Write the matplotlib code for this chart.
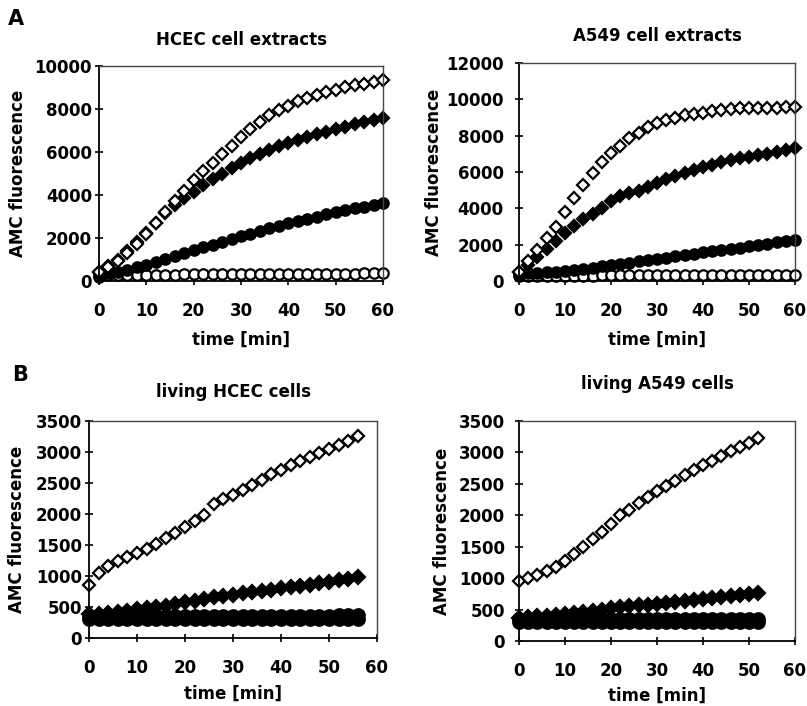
import numpy as np
import matplotlib
matplotlib.use("Agg")
import matplotlib.pyplot as plt

plt.rcParams['font.family'] = ['DejaVu Sans']
plt.rcParams['font.weight'] = 'bold'

# ---------------- data ----------------
time_A = list(range(0, 61, 2))
hcec_ext_open_diamond = [400, 650, 950, 1300, 1700, 2200, 2700, 3200, 3700, 4200, 4700, 5100, 5500, 5900,
                         6300, 6700, 7050, 7400, 7700, 7950, 8150, 8350, 8500, 8650, 8800, 8900, 9000,
                         9100, 9150, 9250, 9350]
hcec_ext_filled_diamond = [400, 700, 1000, 1400, 1800, 2250, 2700, 3150, 3550, 3850, 4150, 4450, 4750, 5000,
                           5250, 5500, 5700, 5900, 6100, 6280, 6430, 6580, 6720, 6840, 6950, 7060, 7180,
                           7280, 7380, 7480, 7600]
hcec_ext_filled_circle = [300, 350, 420, 520, 630, 760, 890, 1020, 1150, 1290, 1420, 1560, 1690, 1820, 1950,
                          2080, 2200, 2330, 2450, 2560, 2680, 2790, 2900, 3000, 3100, 3200, 3290, 3380,
                          3460, 3540, 3620]
hcec_ext_open_circle = [200, 260, 280, 290, 290, 300, 300, 300, 300, 310, 310, 310, 310, 310, 320, 320, 320,
                        320, 320, 330, 330, 330, 330, 330, 340, 340, 340, 340, 350, 350, 350]

a549_ext_open_diamond = [500, 1100, 1710, 2350, 3000, 3820, 4560, 5290, 5970, 6540, 7040, 7410, 7870, 8140,
                         8460, 8700, 8840, 8970, 9150, 9210, 9250, 9340, 9430, 9450, 9500, 9520, 9530,
                         9540, 9550, 9560, 9580]
a549_ext_filled_diamond = [500, 900, 1300, 1750, 2200, 2650, 3050, 3400, 3700, 4000, 4400, 4700, 4850, 4950,
                           5150, 5400, 5600, 5800, 5950, 6100, 6250, 6400, 6550, 6650, 6750, 6850, 6950,
                           7000, 7100, 7200, 7300]
a549_ext_filled_circle = [400, 420, 450, 480, 520, 570, 620, 680, 740, 800, 870, 940, 1010, 1080, 1150, 1220,
                          1290, 1360, 1430, 1500, 1570, 1640, 1700, 1770, 1840, 1910, 1980, 2050, 2120,
                          2200, 2280]
a549_ext_open_circle = [250, 280, 290, 290, 300, 300, 300, 300, 300, 310, 310, 310, 310, 310, 310, 320, 320,
                        320, 320, 320, 320, 330, 330, 330, 330, 330, 340, 340, 340, 340, 350]

time_B_hcec = list(range(0, 57, 2))
hcec_live_open_diamond = [860, 1045, 1160, 1245, 1300, 1365, 1430, 1510, 1610, 1690, 1795, 1885, 1980, 2160,
                          2235, 2310, 2395, 2475, 2555, 2640, 2715, 2785, 2855, 2920, 2990, 3055, 3110,
                          3180, 3255]
hcec_live_filled_diamond = [380, 390, 410, 420, 440, 460, 480, 500, 520, 550, 580, 600, 630, 660, 680, 700,
                            720, 740, 760, 780, 800, 820, 840, 860, 880, 900, 930, 950, 980]
hcec_live_circle_1 = [300] * 29
hcec_live_circle_2 = [360, 360, 360, 360, 360, 360, 360, 360, 360, 360, 360, 360, 360, 360, 360, 360, 360,
                      360, 360, 360, 360, 360, 360, 360, 360, 360, 370, 370, 370]

time_B_a549 = list(range(0, 53, 2))
a549_live_open_diamond = [950, 995, 1050, 1115, 1180, 1270, 1380, 1490, 1615, 1735, 1860, 2000, 2090, 2195,
                          2290, 2380, 2465, 2545, 2635, 2715, 2795, 2865, 2945, 3015, 3085, 3150, 3225]
a549_live_filled_diamond = [370, 380, 390, 400, 415, 430, 445, 460, 480, 500, 520, 535, 550, 565, 580, 595,
                            610, 625, 640, 655, 670, 685, 700, 715, 730, 745, 760]
a549_live_circle_1 = [300] * 27
a549_live_circle_2 = [350] * 27

# ---------------- figure ----------------
W, H = 807, 706
fig = plt.figure(figsize=(W / 100, H / 100), dpi=100)


def px_axes(x0, x1, ytop, ybot):
    return fig.add_axes([x0 / W, 1 - ybot / H, (x1 - x0) / W, (ybot - ytop) / H])


def style(ax, x0, x1, ylab_px, ymax, ystep, ypad, xlpad):
    ax.set_xlim(0, 60)
    ax.set_ylim(0, ymax)
    ax.set_xticks(range(0, 61, 10))
    ax.set_yticks(np.arange(0, ymax + 1, ystep))
    for s in ['left', 'bottom']:
        ax.spines[s].set_linewidth(1.3)
        ax.spines[s].set_color('black')
    for s in ['top', 'right']:
        ax.spines[s].set_linewidth(1.0)
        ax.spines[s].set_color('#444444')
    ax.tick_params(axis='x', direction='inout', length=6, width=1.2, pad=12, labelsize=12)
    ax.tick_params(axis='y', direction='inout', length=6, width=1.2, pad=ypad, labelsize=12)
    for lab in ax.get_xticklabels() + ax.get_yticklabels():
        lab.set_fontweight('bold')
    ax.set_xlabel('time [min]', fontsize=12, fontweight='bold', labelpad=xlpad)
    ax.set_ylabel('AMC fluorescence', fontsize=12, fontweight='bold')
    ax.yaxis.set_label_coords((ylab_px + 9 - x0) / (x1 - x0), 0.5)


def plot_series(ax, t, ys, styles):
    for y, (marker, face, ms) in zip(ys, styles):
        ax.plot(t, y, linestyle='none', marker=marker, markersize=ms, markerfacecolor=face,
                markeredgecolor='black', markeredgewidth=1.6, clip_on=False)


A_styles = [('o', 'white', 7.5), ('o', 'black', 7.5), ('D', 'black', 6.5), ('D', 'white', 6.5)]

# Panel A left
ax1 = px_axes(99, 383, 66, 281)
plot_series(ax1, time_A, [hcec_ext_open_circle, hcec_ext_filled_circle,
                          hcec_ext_filled_diamond, hcec_ext_open_diamond], A_styles)
style(ax1, 99, 383, 18, 10000, 2000, 2, 8)
ax1.set_title('HCEC cell extracts', fontsize=12, fontweight='bold', pad=15)

# Panel A right
ax2 = px_axes(519, 795, 63, 281)
plot_series(ax2, time_A, [a549_ext_open_circle, a549_ext_filled_circle,
                          a549_ext_filled_diamond, a549_ext_open_diamond], A_styles)
style(ax2, 519, 795, 434, 12000, 2000, 8, 8)
ax2.set_title('A549 cell extracts', fontsize=12, fontweight='bold', pad=16)

B_styles = [('o', 'black', 9), ('o', 'black', 9), ('D', 'black', 7), ('D', 'white', 6.5)]

# Panel B left
ax3 = px_axes(89, 377, 421, 638)
plot_series(ax3, time_B_hcec, [hcec_live_circle_1, hcec_live_circle_2,
                               hcec_live_filled_diamond, hcec_live_open_diamond], B_styles)
style(ax3, 89, 377, 17, 3500, 500, 2, 6)
ax3.set_title('living HCEC cells', fontsize=12, fontweight='bold', pad=17)

# Panel B right
ax4 = px_axes(519, 795, 421, 641)
plot_series(ax4, time_B_a549, [a549_live_circle_1, a549_live_circle_2,
                               a549_live_filled_diamond, a549_live_open_diamond], B_styles)
style(ax4, 519, 795, 442, 3500, 500, 7, 5)
ax4.set_title('living A549 cells', fontsize=12, fontweight='bold', pad=23)

fig.text(16 / W, 1 - 19 / H, 'A', fontsize=15, fontweight='bold', ha='center', va='center')
fig.text(20 / W, 1 - 375 / H, 'B', fontsize=15, fontweight='bold', ha='center', va='center')

fig.savefig('out.png', dpi=100)
